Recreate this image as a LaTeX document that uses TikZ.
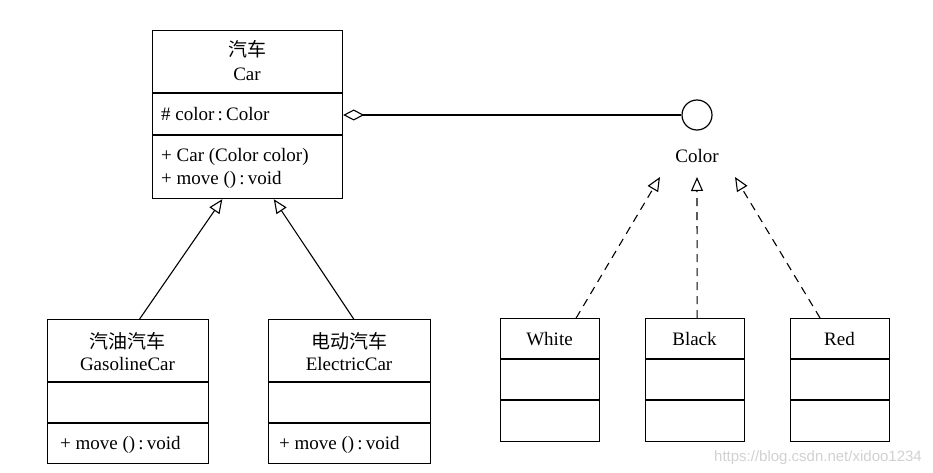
\documentclass[tikz,border=0pt]{standalone}
\usepackage{fontspec}
\setmainfont{Liberation Serif}
\newfontfamily\cjk{Noto Sans CJK SC}
\usetikzlibrary{arrows.meta,calc}
\begin{document}
\begin{tikzpicture}[x=1pt,y=-1pt,
  every node/.style={font=\fontsize{19}{22}\selectfont, inner sep=0pt},
  box/.style={draw, line width=1.2pt, anchor=north west},
  txt/.style={anchor=base},
  ltxt/.style={anchor=base west},
  divider/.style={line width=1.1pt},
  inherit/.style={line width=1.1pt, -{Triangle[open,length=14pt,width=12pt]}},
  realize/.style={line width=1.1pt, dash pattern=on 8pt off 6pt, -{Triangle[open,length=14pt,width=12pt]}},
  aggr/.style={line width=1.1pt, {Diamond[open,length=21pt,width=11pt]}-}
]
\useasboundingbox (0,0) rectangle (933,473);
% Car
\node[box, minimum width=190pt, minimum height=168pt] (car) at (152,30) {};
\draw[divider] (152,93) -- (342,93);
\draw[divider] (152,135) -- (342,135);
\node[txt] (carcn) at (247,57) {\cjk 汽车};
\node[txt] (caren) at (247,81) {Car};
\node[ltxt] (carattr) at (161,121) {\# color\,:\,Color};
\node[ltxt] (carop1) at (161,161) {+ Car (Color color)};
\node[ltxt] (carop2) at (161,184) {+ move ()\,:\,void};
% GasolineCar
\node[box, minimum width=161pt, minimum height=144pt] (gas) at (47,319) {};
\draw[divider] (47,382) -- (208,382);
\draw[divider] (47,423) -- (208,423);
\node[txt] (gascn) at (127.5,348) {\cjk 汽油汽车};
\node[txt] (gasen) at (127.5,370) {GasolineCar};
\node[ltxt] (gasop) at (60,449) {+ move ()\,:\,void};
% ElectricCar
\node[box, minimum width=162pt, minimum height=144pt] (ele) at (268,319) {};
\draw[divider] (268,382) -- (430,382);
\draw[divider] (268,423) -- (430,423);
\node[txt] (elecn) at (349,348) {\cjk 电动汽车};
\node[txt] (eleen) at (349,370) {ElectricCar};
\node[ltxt] (eleop) at (279,449) {+ move ()\,:\,void};
% Color interface
\node[draw, circle, line width=1.2pt, minimum size=30pt] (iface) at (697,115) {};
\node[txt] (colorlbl) at (697,163) {Color};
% color classes
\node[box, minimum width=99pt, minimum height=123pt] (white) at (500,318) {};
\draw[divider] (500,359) -- (599,359);
\draw[divider] (500,400) -- (599,400);
\node[txt] (whitet) at (549.5,345) {White};
\node[box, minimum width=99pt, minimum height=123pt] (black) at (645,318) {};
\draw[divider] (645,359) -- (744,359);
\draw[divider] (645,400) -- (744,400);
\node[txt] (blackt) at (694.5,345) {Black};
\node[box, minimum width=99pt, minimum height=123pt] (red) at (790,318) {};
\draw[divider] (790,359) -- (889,359);
\draw[divider] (790,400) -- (889,400);
\node[txt] (redt) at (839.5,345) {Red};
% connectors
\draw[inherit] ($(gas.north west)!0.571!(gas.north east)$) -- ($(car.south west)!0.368!(car.south east)$);
\draw[inherit] ($(ele.north west)!0.525!(ele.north east)$) -- ($(car.south west)!0.637!(car.south east)$);
\draw[aggr] (car.east |- iface.center) -- (iface.west);
\coordinate (tipw) at (660,177);
\coordinate (tipb) at (697,177);
\coordinate (tipr) at (735,177);
\draw[realize] ($(white.north west)!0.76!(white.north east)$) -- (tipw);
\draw[realize] ($(black.north west)!0.52!(black.north east)$) -- (tipb);
\draw[realize] ($(red.north west)!0.30!(red.north east)$) -- (tipr);
% watermark
\node[anchor=base east, font=\fontsize{15}{18}\selectfont\fontspec{Liberation Sans}, text=black!18] (wm) at (922,461) {https://blog.csdn.net/xidoo1234};
\end{tikzpicture}
\end{document}
